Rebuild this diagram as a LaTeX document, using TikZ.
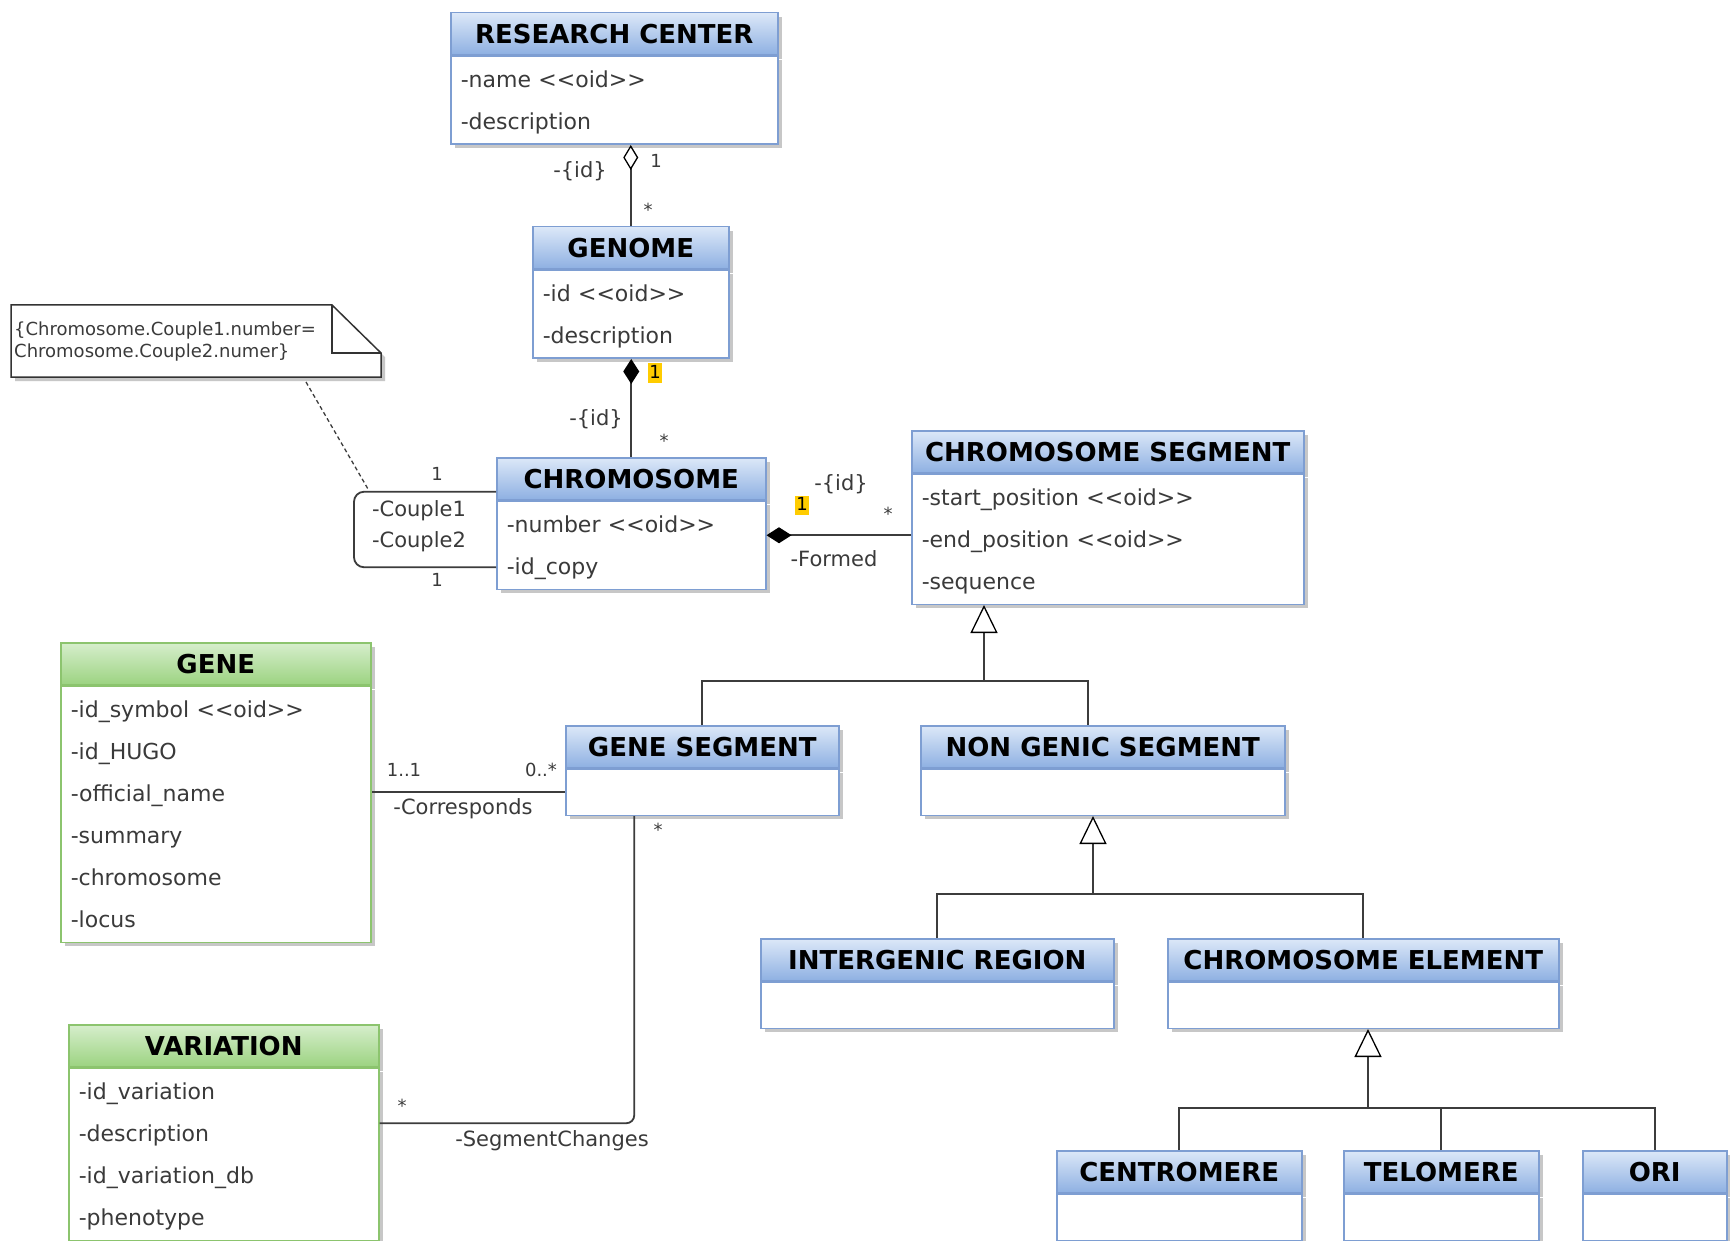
\documentclass[tikz,border=0pt]{standalone}
\usepackage{fontspec}
\setmainfont{DejaVu Sans}
\usepackage{tikz}
\usetikzlibrary{arrows.meta, shadows, positioning}

\definecolor{bluetop}{HTML}{DCE8F8}
\definecolor{bluebot}{HTML}{8EB0E2}
\definecolor{blueline}{HTML}{7E9ED2}
\definecolor{greentop}{HTML}{D6EECC}
\definecolor{greenbot}{HTML}{9CD381}
\definecolor{greenline}{HTML}{8CC46E}
\definecolor{attrgray}{HTML}{3A3A3A}
\definecolor{linkgray}{HTML}{3C3C3C}
\definecolor{hlyellow}{HTML}{FFCC00}

\tikzset{
    boxshadow/.style={drop shadow={shadow xshift=4pt, shadow yshift=-4pt,
        fill=black!22, opacity=1}},
    classhead/.style={anchor=north west, draw=#1line, top color=#1top,
        bottom color=#1bot, line width=1.5pt, minimum height=42pt,
        inner sep=0pt, text=black, boxshadow,
        font=\bfseries\fontsize{26}{30}\selectfont},
    classbody/.style={anchor=north west, draw=#1line, fill=white,
        line width=1.5pt, inner xsep=10pt, inner ysep=2pt, align=left,
        text=attrgray, boxshadow, font=\fontsize{22}{42}\selectfont,
        execute at begin node=\strut, execute at end node=\strut},
    link/.style={draw=linkgray, line width=1.8pt},
    lbl/.style={inner sep=0pt, text=attrgray, font=\fontsize{21}{24}\selectfont},
    mult/.style={inner sep=0pt, text=attrgray, font=\fontsize{18}{21}\selectfont},
    hl/.style={mult, text=black, fill=hlyellow, inner xsep=1.5pt,
        text height=15pt, text depth=4pt},
    noteline/.style={draw=black!80, line width=1.5pt},
}

% class box: header node (name) and body node (name-body)
\newcommand{\umlclass}[6][blue]{%
    \node[classhead=#1, minimum width=#4pt] (#2) at (#3) {#5};
    \node[classbody=#1, text width=#4pt-20pt] (#2-body) at (#2.south west) {#6};
}

\begin{document}
\begin{tikzpicture}[x=1pt, y=-1pt]
        \fill[white] (0,0) rectangle (1730,1241);
        \useasboundingbox (0,0) rectangle (1730,1241);

        \umlclass{rc}{450,12}{327}{RESEARCH CENTER}{-name <{}<oid>{}>\\-description}
        \umlclass{gen}{532,226}{196}{GENOME}{-id <{}<oid>{}>\\-description}
        \umlclass{chr}{496,457}{269}{CHROMOSOME}{-number <{}<oid>{}>\\-id\_copy}
        \umlclass{seg}{911,430}{392}{CHROMOSOME SEGMENT}{-start\_position <{}<oid>{}>\\-end\_position <{}<oid>{}>\\-sequence}
        \umlclass[green]{gene}{60,642}{310}{GENE}{-id\_symbol <{}<oid>{}>\\-id\_HUGO\\-official\_name\\-summary\\-chromosome\\-locus}
        \umlclass[green]{var}{68,1024}{310}{VARIATION}{-id\_variation\\-description\\-id\_variation\_db\\-phenotype}
        \umlclass{gs}{565,725}{273}{GENE SEGMENT}{}
        \umlclass{ngs}{920,725}{364}{NON GENIC SEGMENT}{}
        \umlclass{igr}{760,938}{353}{INTERGENIC REGION}{}
        \umlclass{ce}{1167,938}{391}{CHROMOSOME ELEMENT}{}
        \umlclass{cen}{1056,1150}{245}{CENTROMERE}{}
        \umlclass{tel}{1343,1150}{195}{TELOMERE}{}
        \umlclass{ori}{1582,1150}{144}{ORI}{}

        % note
        \draw[noteline, fill=white, boxshadow] (11,305) -- (332,305) -- (381,353)
            -- (381,377) -- (11,377) -- cycle;
        \draw[noteline] (332,305) |- (381,353);
        \node[anchor=north west, minimum width=370pt, minimum height=72pt,
            text width=364pt, inner xsep=3pt, align=left, text=attrgray,
            font=\fontsize{18}{22}\selectfont] (note) at (11,305)
            {\{Chromosome.Couple1.number=\\Chromosome.Couple2.numer\}};

        % research center -- genome
        \draw[link, {Diamond[open, length=25pt, width=15pt, line width=1.3pt, color=black]}-]
            (gen.north |- rc-body.south) -- (gen.north);
        \node[lbl] (rc-role) at (580,171) {-\{id\}};
        \node[mult] (rc-m1) at (656,161) {1};
        \node[mult] (rc-m2) at (648,210) {*};

        % genome -- chromosome
        \draw[link, {Diamond[length=25pt, width=16pt, color=black]}-]
            (chr.north |- gen-body.south) -- (chr.north);
        \node[hl] (gen-m1) at (655,373) {1};
        \node[lbl] (gen-role) at (596,419) {-\{id\}};
        \node[mult] (gen-m2) at (664,441) {*};

        % chromosome -- segment
        \draw[link, {Diamond[length=25pt, width=16pt, color=black]}-] ([yshift=10pt]chr-body.east)
            -- ([yshift=10pt]chr-body.east -| seg-body.west);
        \node[hl] (chr-m1) at (802,505) {1};
        \node[lbl] (chr-role) at (841,484) {-\{id\}};
        \node[mult] (chr-m2) at (888,514) {*};
        \node[lbl] (formed) at (834,559) {-Formed};

        % couples
        \coordinate (loopcorner) at (368,489);
        \coordinate (notefoot) at (306,382);
        \draw[link, rounded corners=10pt] ([yshift=-13pt]chr.west) -| (354,530)
            |- ([yshift=-22pt]chr-body.west);
        \draw[link, line width=1.3pt, dash pattern=on 4pt off 3pt] (notefoot) -- (loopcorner);
        \node[mult] (cpl-m1) at (437,474) {1};
        \node[mult] (cpl-m2) at (437,580) {1};
        \node[lbl] (cpl1) at (419,511) {-Couple1};
        \node[lbl] (cpl2) at (419,542) {-Couple2};

        % generalizations
        \coordinate (segjoin) at (984,681);
        \draw[link, -{Triangle[open, length=28pt, width=27pt, line width=1.3pt, color=black]}]
            (segjoin) -- (segjoin |- seg-body.south);
        \draw[link] (gs.north) |- (segjoin) -| ([xshift=-15pt]ngs.north);

        \coordinate (ngsjoin) at (1093,894);
        \draw[link, -{Triangle[open, length=28pt, width=27pt, line width=1.3pt, color=black]}]
            (ngsjoin) -- (ngsjoin |- ngs-body.south);
        \draw[link] (igr.north) |- (ngsjoin) -| (ce.north);

        \coordinate (cejoin) at (1368,1108);
        \draw[link, -{Triangle[open, length=28pt, width=27pt, line width=1.3pt, color=black]}]
            (cejoin) -- (cejoin |- ce-body.south);
        \draw[link] (cen.north) |- (cejoin) -| (ori.north);
        \draw[link] (tel.north) -- (tel.north |- cejoin);

        % gene -- gene segment
        \draw[link] (gs-body.west) -- (gs-body.west -| gene-body.east);
        \node[mult] (gene-m1) at (404,770) {1..1};
        \node[mult] (gene-m2) at (541,770) {0..*};
        \node[lbl] (corr) at (463,809) {-Corresponds};

        % variation -- gene segment
        \draw[link, rounded corners=8pt] ([xshift=-68pt]gs-body.south)
            |- ([yshift=31pt]var-body.east);
        \node[mult] (gs-m1) at (658,830) {*};
        \node[mult] (var-m1) at (402,1106) {*};
        \node[lbl] (segchg) at (552,1141) {-SegmentChanges};

    \end{tikzpicture}
\end{document}
